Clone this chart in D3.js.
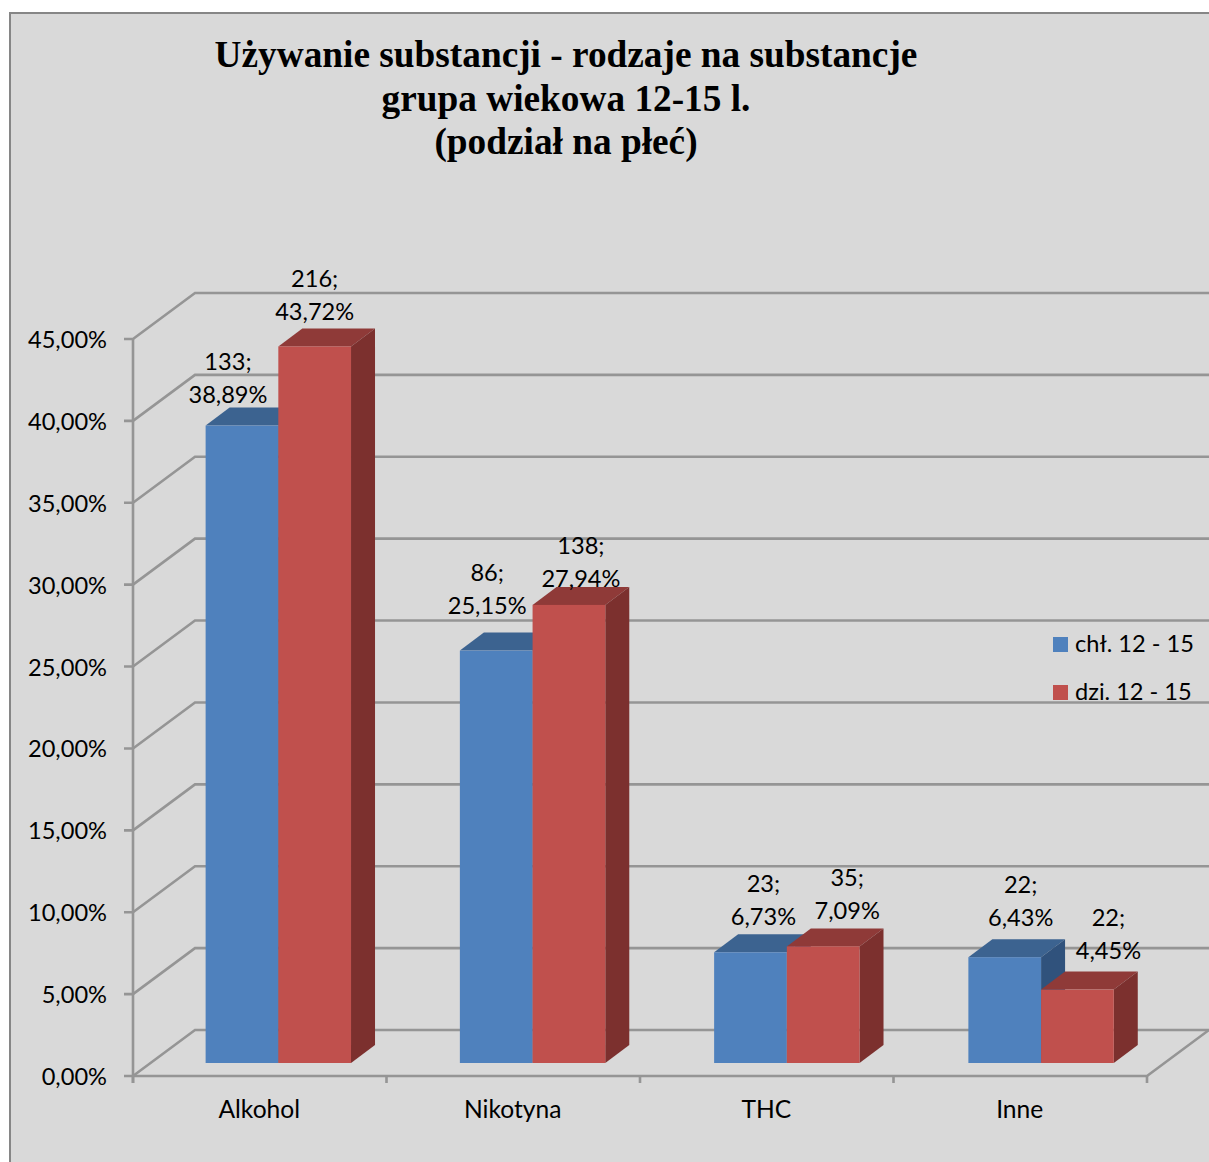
<!DOCTYPE html>
<html><head><meta charset="utf-8">
<script src="https://cdn.jsdelivr.net/npm/d3@7"></script>
<style>html,body{margin:0;padding:0;background:#fff}svg{display:block}</style>
</head><body><div id="c"></div>
<script>
const categories = ["Alkohol","Nikotyna","THC","Inne"];
const seriesNames = ["chł. 12 - 15","dzi. 12 - 15"];
const boysPct = [38.89,25.15,6.73,6.43];
const girlsPct = [43.72,27.94,7.09,4.45];
const boysCount = [133,86,23,22];
const girlsCount = [216,138,35,22];
const titleLines = ["Używanie substancji - rodzaje na substancje","grupa wiekowa 12-15 l.","(podział na płeć)"];
const yTicks = [0,5,10,15,20,25,30,35,40,45];
const fmt = v => v.toFixed(2).replace(".",",")+"%";

const W=1209,H=1162;
const svg=d3.select("#c").append("svg").attr("width",W).attr("height",H);
const FONT="Lato, sans-serif";
const GRID="#959595";

svg.append("rect").attr("x",10).attr("y",13).attr("width",W+20).attr("height",H+20)
  .attr("fill","#d9d9d9").attr("stroke","#868686").attr("stroke-width",2);

const y=d3.scaleLinear().domain([0,45]).range([1076,339]);
const xAxis=d3.scaleBand().domain(categories).range([133,1147]);
const xBars=d3.scaleBand().domain(categories).range([151.2,1168.2]);
const xInner=d3.scaleBand().domain([0,1]).range([-72.7,72.7]);
const wallDx=62,wallDy=46;
const barLift=13.5,barDx=24,barDy=18;

const grid=svg.append("g").attr("fill","none").attr("stroke",GRID).attr("stroke-width",2.6);
yTicks.forEach(t=>{
  const p=y(t);
  grid.append("path").attr("d",`M124,${p}H133L${133+wallDx},${p-wallDy}H${W}`);
});
grid.append("path").attr("d",`M133,${y(45)}V1083`);
grid.append("path").attr("d",`M133,${y(0)}H1147L${1147+wallDx},${y(0)-wallDy}`);
d3.range(5).forEach(i=>{
  const xp=i<4?xAxis(categories[i]):xAxis.range()[1];
  grid.append("path").attr("d",`M${xp},${y(0)}V1083`);
});

const palette=[{f:"#4f81bd",t:"#3c6390",s:"#30527c"},{f:"#c0504d",t:"#8f3a38",s:"#7c302e"}];
const series=[boysPct,girlsPct];
const bars=svg.append("g");
categories.forEach((c,i)=>{
  series.forEach((vals,s)=>{
    const x0=xBars(c)+xBars.bandwidth()/2+xInner(s), x1=x0+xInner.bandwidth();
    const yT=y(vals[i])-barLift, yB=y(0)-barLift+0.5, col=palette[s];
    bars.append("path").attr("fill",col.t).attr("d",`M${x0},${yT}L${x0+barDx},${yT-barDy}H${x1+barDx}L${x1},${yT}Z`);
    bars.append("path").attr("fill",col.s).attr("d",`M${x1},${yT}L${x1+barDx},${yT-barDy}V${yB-barDy}L${x1},${yB}Z`);
    bars.append("rect").attr("x",x0).attr("y",yT).attr("width",x1-x0).attr("height",yB-yT).attr("fill",col.f);
  });
});

const axisText=svg.append("g").attr("font-family",FONT).attr("fill","#000");
yTicks.forEach(t=>{
  axisText.append("text").attr("x",107).attr("y",y(t)+9).attr("text-anchor","end").attr("font-size",23.6).text(fmt(t));
});
categories.forEach(c=>{
  axisText.append("text").attr("x",xAxis(c)+xAxis.bandwidth()/2-0.5).attr("y",1118).attr("text-anchor","middle").attr("font-size",24.6).text(c);
});

// hand-placed label offsets from the bar centre / bar top
const nudgeX=[[-14,0],[-9,12],[13,24],[16,31]];
const nudgeY=[[-32,-35],[-46,-27],[-36,-36],[-40,-40]];
const labels=svg.append("g").attr("font-family",FONT).attr("font-size",23.6).attr("fill","#000").attr("text-anchor","middle");
const counts=[boysCount,girlsCount];
categories.forEach((c,i)=>{
  series.forEach((vals,s)=>{
    const cx=xBars(c)+xBars.bandwidth()/2+xInner(s)+xInner.bandwidth()/2+nudgeX[i][s];
    const cy=y(vals[i])-barLift+nudgeY[i][s];
    labels.append("text").attr("x",cx).attr("y",cy-33+9).text(counts[s][i]+";");
    labels.append("text").attr("x",cx).attr("y",cy+9).text(fmt(vals[i]));
  });
});

const legend=svg.append("g").attr("font-family",FONT).attr("font-size",23.6).attr("fill","#000");
seriesNames.forEach((n,i)=>{
  const ly=637+i*48;
  legend.append("rect").attr("x",1053).attr("y",ly).attr("width",15).attr("height",15).attr("fill",palette[i].f);
  legend.append("text").attr("x",1075).attr("y",ly+15).text(n);
});

const title=svg.append("g").attr("font-family","'Liberation Serif', serif").attr("font-weight","bold").attr("font-size",37.3).attr("fill","#000").attr("text-anchor","middle");
titleLines.forEach((t,i)=>{
  title.append("text").attr("x",566).attr("y",67+i*43.5).text(t);
});
</script></body></html>
